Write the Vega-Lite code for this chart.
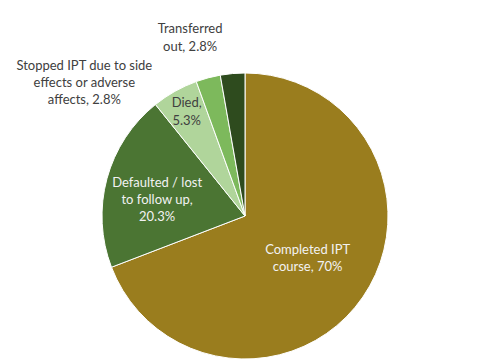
{
  "$schema": "https://vega.github.io/schema/vega-lite/v6.json",
  "width": 286,
  "height": 286,
  "autosize": {"type": "none"},
  "padding": {"left": 102, "top": 73, "right": 109, "bottom": 4},
  "background": "white",
  "config": {"view": {"stroke": null}},
  "data": {
    "values": [
      {"k": 1, "category": "Completed IPT course", "label": "Completed IPT\ncourse, 70%", "pct": 70},
      {"k": 2, "category": "Defaulted / lost to follow up", "label": "Defaulted / lost\nto follow up,\n20.3%", "pct": 20.3},
      {"k": 3, "category": "Died", "label": "Died,\n5.3%", "pct": 5.3},
      {"k": 4, "category": "Stopped IPT due to side effects or adverse affects", "label": "Stopped IPT due to side\neffects or adverse\naffects, 2.8%", "pct": 2.8},
      {"k": 5, "category": "Transferred out", "label": "Transferred\nout, 2.8%", "pct": 2.8}
    ]
  },
  "transform": [
    {"stack": "pct", "groupby": [], "sort": [{"field": "k", "order": "ascending"}], "as": ["t0", "t1"]},
    {"calculate": "(datum.t0 + datum.t1) / 2", "as": "tm"}
  ],
  "layer": [
    {
      "mark": {"type": "arc", "stroke": "white", "strokeWidth": 1},
      "encoding": {
        "theta": {"field": "t0", "type": "quantitative", "scale": {"domain": [0, 101.2]}},
        "theta2": {"field": "t1"},
        "color": {
          "field": "category",
          "type": "nominal",
          "legend": null,
          "scale": {
            "domain": ["Completed IPT course", "Defaulted / lost to follow up", "Died", "Stopped IPT due to side effects or adverse affects", "Transferred out"],
            "range": ["#9A7D1E", "#4B7533", "#B0D59B", "#7DB95C", "#2E4B1E"]
          }
        }
      }
    },
    {
      "transform": [{"filter": "datum.k == 1"}],
      "mark": {"type": "text", "radius": 76, "dy": -9, "lineBreak": "\n", "font": "Lato", "fontSize": 13, "lineHeight": 17, "color": "#F2F2F2"},
      "encoding": {"theta": {"field": "tm", "type": "quantitative"}, "text": {"field": "label"}}
    },
    {
      "transform": [{"filter": "datum.k == 2"}],
      "mark": {"type": "text", "radius": 89, "dx": -2, "dy": -10, "lineBreak": "\n", "font": "Lato", "fontSize": 13, "lineHeight": 17, "color": "#F2F2F2"},
      "encoding": {"theta": {"field": "tm", "type": "quantitative"}, "text": {"field": "label"}}
    },
    {
      "transform": [{"filter": "datum.k == 3"}],
      "mark": {"type": "text", "radius": 119, "dy": -9, "lineBreak": "\n", "font": "Lato", "fontSize": 13, "lineHeight": 18, "color": "#404040"},
      "encoding": {"theta": {"field": "tm", "type": "quantitative"}, "text": {"field": "label"}}
    },
    {
      "transform": [{"filter": "datum.k == 4"}],
      "mark": {"type": "text", "radius": 150, "dx": -122, "dy": -5, "lineBreak": "\n", "font": "Lato", "fontSize": 13, "lineHeight": 17, "color": "#404040"},
      "encoding": {"theta": {"field": "tm", "type": "quantitative"}, "text": {"field": "label"}}
    },
    {
      "transform": [{"filter": "datum.k == 5"}],
      "mark": {"type": "text", "radius": 160, "dx": -41, "dy": -28, "lineBreak": "\n", "font": "Lato", "fontSize": 13, "lineHeight": 18, "color": "#404040"},
      "encoding": {"theta": {"field": "tm", "type": "quantitative"}, "text": {"field": "label"}}
    }
  ]
}
